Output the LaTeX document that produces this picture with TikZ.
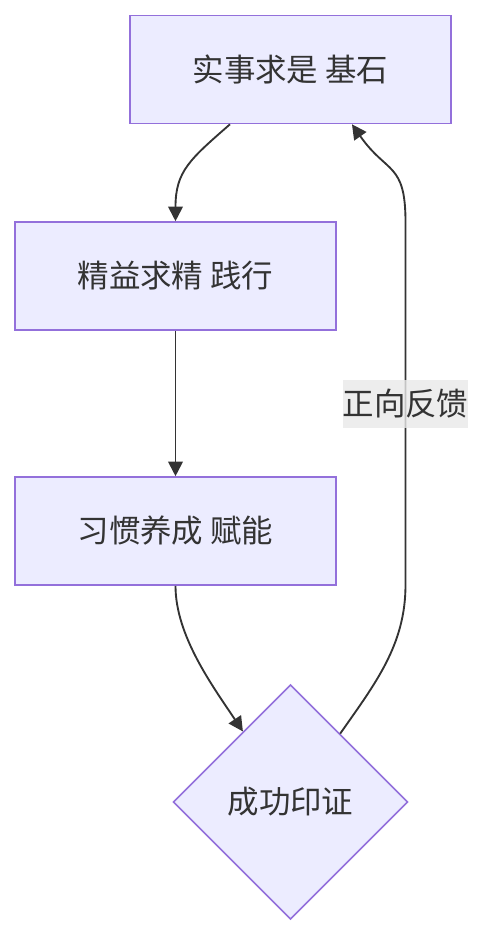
\documentclass[tikz,border=0pt]{standalone}
\usepackage{fontspec}
\newfontfamily\cjk{Noto Sans CJK SC}
\usetikzlibrary{shapes.geometric,arrows.meta}
\definecolor{boxfill}{HTML}{ECECFF}
\definecolor{boxline}{HTML}{9370DB}
\definecolor{ink}{HTML}{333333}
\definecolor{labelbg}{HTML}{E8E8E8}

\begin{document}
\begin{tikzpicture}[x=0.75pt,y=-0.75pt,
		stepbox/.style={draw=boxline,fill=boxfill,line width=1.2pt,inner sep=0pt,
			minimum width=240.75pt,minimum height=81pt,text=ink,
			font={\cjk\fontsize{23.6}{28}\selectfont}},
		checkbox/.style={stepbox,diamond,aspect=1,minimum width=176pt,minimum height=176pt},
		fblabel/.style={fill=labelbg,fill opacity=0.8,text opacity=1,text=ink,inner sep=0pt,
			minimum height=36pt,font={\cjk\fontsize{23.6}{28}\selectfont}},
		flow/.style={draw=ink,line width=1.4pt,-{Triangle[length=11pt,width=11pt]}}]

	\useasboundingbox (0,0) rectangle (485,936);

	\node[stepbox]  (base)  at (290.5, 69.5) {实事求是 基石};
	\node[stepbox]  (lean)  at (175.5,276  ) {精益求精 践行};
	\node[stepbox]  (habit) at (175.5,531  ) {习惯养成 赋能};
	\node[checkbox] (proof) at (290.5,802  ) {成功印证};

	\coordinate (turnlow)  at (405.5,585);
	\coordinate (turnhigh) at (405.5,222);

	\draw[flow] ([xshift=-45.4pt]base.south) .. controls +(-40,35) and +(0,-50) .. (lean.north);
	\draw[flow] (lean.south) -- (habit.south |- habit.north);
	\draw[flow] (habit.south) .. controls +(0,50) and +(-30,-45) .. (proof.124);
	\draw[flow] (proof.54) .. controls +(35,-50) and +(0,60) .. (turnlow)
		-- node[fblabel] (fb) {正向反馈} (turnhigh)
		.. controls +(0,-60) and +(35,50) .. ([xshift=46.1pt]base.south);
\end{tikzpicture}
\end{document}
